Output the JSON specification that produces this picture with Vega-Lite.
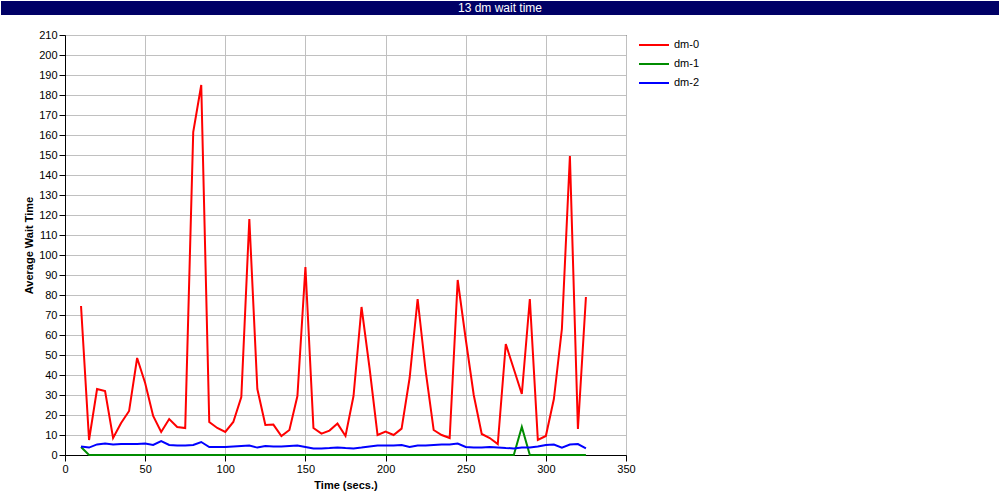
{
  "$schema": "https://vega.github.io/schema/vega-lite/v6.json",
  "autosize": {"type": "pad"},
  "padding": {"left": 1, "top": 1, "right": 1, "bottom": 1},
  "background": "white",
  "spacing": 13,
  "resolve": {"legend": {"color": "independent"}},
  "config": {
    "font": "Liberation Sans",
    "concat": {"spacing": 0},
    "axis": {
      "domainColor": "black",
      "domainWidth": 1,
      "tickColor": "black",
      "tickSize": 6,
      "labelFont": "Liberation Sans",
      "labelFontSize": 11,
      "labelColor": "black",
      "labelPadding": 2,
      "labelFlush": false,
      "labelOverlap": false,
      "titleFont": "Liberation Sans",
      "titleFontSize": 11,
      "titleFontWeight": "bold",
      "titleColor": "black",
      "grid": true,
      "gridColor": "#c0c0c0",
      "gridOpacity": 1,
      "gridWidth": 1
    },
    "legend": {
      "labelFont": "Liberation Sans",
      "labelFontSize": 11,
      "labelColor": "black"
    }
  },
  "datasets": {
    "wait": [
      {"t": 10, "dm-0": 74.5, "dm-1": 4, "dm-2": 4.2},
      {"t": 15, "dm-0": 7.5, "dm-1": 0, "dm-2": 3.7},
      {"t": 20, "dm-0": 33, "dm-1": 0, "dm-2": 5.3},
      {"t": 25, "dm-0": 32, "dm-1": 0, "dm-2": 5.7},
      {"t": 30, "dm-0": 8.5, "dm-1": 0, "dm-2": 5.3},
      {"t": 35, "dm-0": 16, "dm-1": 0, "dm-2": 5.5},
      {"t": 40, "dm-0": 22, "dm-1": 0, "dm-2": 5.5},
      {"t": 45, "dm-0": 48.5, "dm-1": 0, "dm-2": 5.5},
      {"t": 50, "dm-0": 36, "dm-1": 0, "dm-2": 5.7},
      {"t": 55, "dm-0": 19.5, "dm-1": 0, "dm-2": 5},
      {"t": 60, "dm-0": 11.5, "dm-1": 0, "dm-2": 7},
      {"t": 65, "dm-0": 18, "dm-1": 0, "dm-2": 5},
      {"t": 70, "dm-0": 14, "dm-1": 0, "dm-2": 4.8},
      {"t": 75, "dm-0": 13.5, "dm-1": 0, "dm-2": 4.8},
      {"t": 80, "dm-0": 161.5, "dm-1": 0, "dm-2": 5},
      {"t": 85, "dm-0": 185, "dm-1": 0, "dm-2": 6.5},
      {"t": 90, "dm-0": 16.5, "dm-1": 0, "dm-2": 4},
      {"t": 95, "dm-0": 13.5, "dm-1": 0, "dm-2": 4},
      {"t": 100, "dm-0": 11.5, "dm-1": 0, "dm-2": 4},
      {"t": 105, "dm-0": 16.5, "dm-1": 0, "dm-2": 4.3},
      {"t": 110, "dm-0": 29, "dm-1": 0, "dm-2": 4.5},
      {"t": 115, "dm-0": 118, "dm-1": 0, "dm-2": 4.7},
      {"t": 120, "dm-0": 33, "dm-1": 0, "dm-2": 3.7},
      {"t": 125, "dm-0": 15, "dm-1": 0, "dm-2": 4.5},
      {"t": 130, "dm-0": 15.2, "dm-1": 0, "dm-2": 4.2},
      {"t": 135, "dm-0": 9.5, "dm-1": 0, "dm-2": 4.2},
      {"t": 140, "dm-0": 12.5, "dm-1": 0, "dm-2": 4.5},
      {"t": 145, "dm-0": 29.5, "dm-1": 0, "dm-2": 4.7},
      {"t": 150, "dm-0": 94, "dm-1": 0, "dm-2": 4},
      {"t": 155, "dm-0": 13.5, "dm-1": 0, "dm-2": 3.3},
      {"t": 160, "dm-0": 10.7, "dm-1": 0, "dm-2": 3.3},
      {"t": 165, "dm-0": 12.2, "dm-1": 0, "dm-2": 3.5},
      {"t": 170, "dm-0": 15.7, "dm-1": 0, "dm-2": 3.8},
      {"t": 175, "dm-0": 9.5, "dm-1": 0, "dm-2": 3.5},
      {"t": 180, "dm-0": 29.5, "dm-1": 0, "dm-2": 3.3},
      {"t": 185, "dm-0": 74, "dm-1": 0, "dm-2": 3.7},
      {"t": 190, "dm-0": 43.5, "dm-1": 0, "dm-2": 4.2},
      {"t": 195, "dm-0": 10, "dm-1": 0, "dm-2": 4.7},
      {"t": 200, "dm-0": 11.7, "dm-1": 0, "dm-2": 4.7},
      {"t": 205, "dm-0": 10, "dm-1": 0, "dm-2": 4.8},
      {"t": 210, "dm-0": 13.2, "dm-1": 0, "dm-2": 5},
      {"t": 215, "dm-0": 38.5, "dm-1": 0, "dm-2": 4},
      {"t": 220, "dm-0": 78, "dm-1": 0, "dm-2": 4.8},
      {"t": 225, "dm-0": 42, "dm-1": 0, "dm-2": 4.7},
      {"t": 230, "dm-0": 12.5, "dm-1": 0, "dm-2": 5},
      {"t": 235, "dm-0": 10, "dm-1": 0, "dm-2": 5.2},
      {"t": 240, "dm-0": 8.5, "dm-1": 0, "dm-2": 5.2},
      {"t": 245, "dm-0": 87.5, "dm-1": 0, "dm-2": 5.7},
      {"t": 250, "dm-0": 58, "dm-1": 0, "dm-2": 4},
      {"t": 255, "dm-0": 30, "dm-1": 0, "dm-2": 3.7},
      {"t": 260, "dm-0": 10.5, "dm-1": 0, "dm-2": 3.7},
      {"t": 265, "dm-0": 8.5, "dm-1": 0, "dm-2": 4},
      {"t": 270, "dm-0": 5.5, "dm-1": 0, "dm-2": 3.8},
      {"t": 275, "dm-0": 55.5, "dm-1": 0, "dm-2": 3.5},
      {"t": 280, "dm-0": 43, "dm-1": 0, "dm-2": 3.3},
      {"t": 285, "dm-0": 30.5, "dm-1": 14, "dm-2": 3.8},
      {"t": 290, "dm-0": 78, "dm-1": 0, "dm-2": 3.8},
      {"t": 295, "dm-0": 7.5, "dm-1": 0, "dm-2": 4.2},
      {"t": 300, "dm-0": 9.5, "dm-1": 0, "dm-2": 5},
      {"t": 305, "dm-0": 28, "dm-1": 0, "dm-2": 5.2},
      {"t": 310, "dm-0": 63, "dm-1": 0, "dm-2": 3.7},
      {"t": 315, "dm-0": 149.5, "dm-1": 0, "dm-2": 5.2},
      {"t": 320, "dm-0": 13, "dm-1": 0, "dm-2": 5.5},
      {"t": 325, "dm-0": 79, "dm-1": 0, "dm-2": 3.3}
    ]
  },
  "vconcat": [
    {
      "width": 998,
      "height": 14,
      "data": {"values": [{"label": "13 dm wait time"}]},
      "mark": {"type": "text", "color": "white", "font": "Liberation Sans", "fontSize": 12, "baseline": "middle", "align": "center"},
      "encoding": {"text": {"field": "label", "type": "nominal"}},
      "view": {"fill": "#000066", "stroke": null}
    },
    {
      "spacing": 0,
      "resolve": {"legend": {"color": "independent"}},
      "hconcat": [
        {
          "width": 22,
          "height": 10,
          "data": {"values": [{"k": 1}]},
          "mark": {"type": "point", "opacity": 0},
          "view": {"stroke": null}
        },
        {
          "width": 561,
          "height": 420,
          "data": {"name": "wait"},
          "transform": [{"fold": ["dm-0", "dm-1", "dm-2"], "as": ["series", "wait"]}],
          "mark": {"type": "line", "strokeWidth": 2, "clip": false},
          "encoding": {
            "x": {
              "field": "t",
              "type": "quantitative",
              "scale": {"domain": [0, 350], "nice": false, "zero": false},
              "axis": {"values": [0, 50, 100, 150, 200, 250, 300, 350], "title": "Time (secs.)", "titlePadding": 5}
            },
            "y": {
              "field": "wait",
              "type": "quantitative",
              "scale": {"domain": [0, 210], "nice": false},
              "axis": {"values": [0, 10, 20, 30, 40, 50, 60, 70, 80, 90, 100, 110, 120, 130, 140, 150, 160, 170, 180, 190, 200, 210], "title": "Average Wait Time", "titlePadding": 4}
            },
            "color": {
              "field": "series",
              "type": "nominal",
              "scale": {"domain": ["dm-0", "dm-1", "dm-2"], "range": ["#ff0000", "#008c00", "#0000ff"]},
              "legend": {
                "title": null,
                "orient": "right",
                "offset": 18,
                "padding": 4,
                "symbolType": "M-3,0H3",
                "symbolSize": 100,
                "symbolStrokeWidth": 2,
                "labelOffset": 14,
                "rowPadding": 8
              }
            }
          },
          "view": {"stroke": "black", "strokeWidth": 1}
        }
      ]
    }
  ]
}
